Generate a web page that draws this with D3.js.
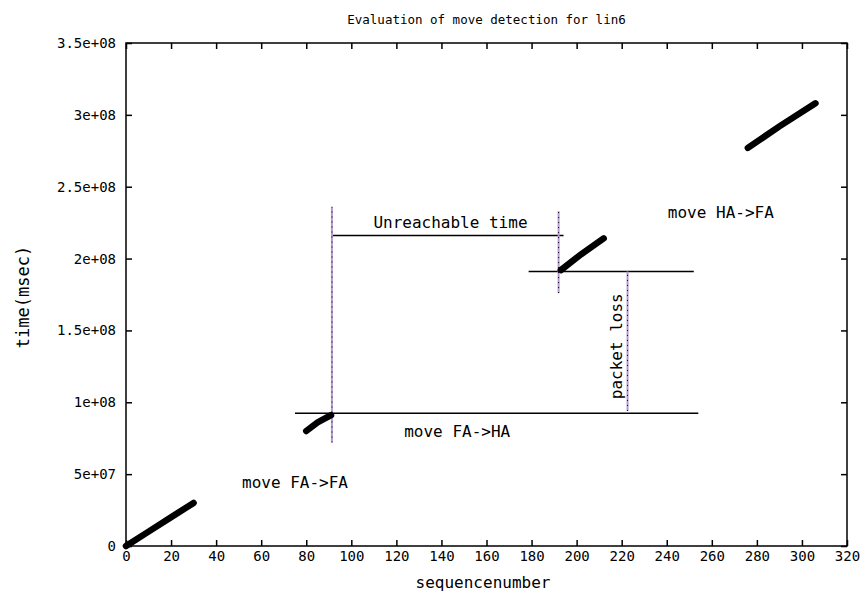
<!DOCTYPE html>
<html>
<head>
<meta charset="utf-8">
<script src="https://cdn.jsdelivr.net/npm/d3@7"></script>
<style>
  body { margin: 0; background: #fff; }
  svg text { font-family: "DejaVu Sans Mono", monospace; fill: #000; }
</style>
</head>
<body>
<svg id="chart" width="865" height="599"></svg>
<script>
// measured runs of packets: [sequence number, time (msec)]
const runFaFa = [[0, 0], [10, 1.0e7], [20, 2.0e7], [30, 3.0e7]];
const runFaHa = [[80, 8.0e7], [85, 8.6e7], [91, 9.1e7]];
const runHaHa = [[193, 1.92e8], [202, 2.03e8], [212, 2.14e8]];
const runHaFa = [[276, 2.77e8], [290, 2.92e8], [306, 3.08e8]];

// horizontal guide lines: [seqFrom, seqTo, time]
const hLines = [
  [75, 254, 9.23e7],
  [91.4, 194.2, 2.16e8],
  [178.7, 252, 1.91e8],
];
// vertical dashed markers: [seq, timeFrom, timeTo]
const vLines = [
  [91.4, 7.2e7, 2.36e8],
  [192, 1.76e8, 2.33e8],
  [222.6, 9.4e7, 1.91e8],
];
// labels: [text, seq, time, rotate]
const labels = [
  ['move FA->FA', 75, 4.4e7, 0],
  ['move FA->HA', 147, 8.0e7, 0],
  ['Unreachable time', 144, 2.25e8, 0],
  ['packet loss', 217.5, 1.39e8, -90],
  ['move HA->FA', 264, 2.32e8, 0],
];

const xTicks = d3.range(0, 321, 20);
const yTicks = [0, 5e7, 1e8, 1.5e8, 2e8, 2.5e8, 3e8, 3.5e8];
const yTickLabels = ['0', '5e+07', '1e+08', '1.5e+08', '2e+08', '2.5e+08', '3e+08', '3.5e+08'];

const svg = d3.select('#chart');
const m = { left: 126, right: 847, top: 43, bottom: 546 };

const x = d3.scaleLinear().domain([0, 320]).range([m.left, m.right]);
const y = d3.scaleLinear().domain([0, 3.5e8]).range([m.bottom, m.top]);

// frame
svg.append('rect')
  .attr('x', m.left).attr('y', m.top)
  .attr('width', m.right - m.left).attr('height', m.bottom - m.top)
  .attr('fill', 'none').attr('stroke', '#000').attr('stroke-width', 1.5);

// axes with inward ticks, mirrored like gnuplot
const tick = 6;
svg.append('g').attr('transform', `translate(0,${m.bottom})`)
  .call(d3.axisBottom(x).tickValues(xTicks).tickSizeInner(-tick).tickSizeOuter(0).tickPadding(5))
  .call(g => g.select('.domain').remove());
svg.append('g').attr('transform', `translate(0,${m.top})`)
  .call(d3.axisTop(x).tickValues(xTicks).tickSizeInner(-tick).tickSizeOuter(0).tickFormat(''))
  .call(g => g.select('.domain').remove());
svg.append('g').attr('transform', `translate(${m.left},0)`)
  .call(d3.axisLeft(y).tickValues(yTicks).tickSizeInner(-tick).tickSizeOuter(0).tickPadding(10)
    .tickFormat((d, i) => yTickLabels[i]))
  .call(g => g.select('.domain').remove());
svg.append('g').attr('transform', `translate(${m.right},0)`)
  .call(d3.axisRight(y).tickValues(yTicks).tickSizeInner(-tick).tickSizeOuter(0).tickFormat(''))
  .call(g => g.select('.domain').remove());

svg.selectAll('.tick line').attr('stroke', '#000').attr('stroke-width', 1.5);
svg.selectAll('.tick text').attr('font-size', 14).attr('font-family', '"DejaVu Sans Mono", monospace');

// guide lines
svg.append('g').selectAll('line').data(hLines).join('line')
  .attr('x1', d => x(d[0])).attr('x2', d => x(d[1]))
  .attr('y1', d => y(d[2])).attr('y2', d => y(d[2]))
  .attr('stroke', '#000').attr('stroke-width', 1.5);

const vg = svg.append('g');
vg.selectAll('line.v').data(vLines).join('line').attr('class', 'v')
  .attr('x1', d => x(d[0])).attr('x2', d => x(d[0]))
  .attr('y1', d => y(d[1])).attr('y2', d => y(d[2]))
  .attr('stroke', '#b49ad0').attr('stroke-width', 2);
vg.selectAll('line.d').data(vLines).join('line').attr('class', 'd')
  .attr('x1', d => x(d[0])).attr('x2', d => x(d[0]))
  .attr('y1', d => y(d[1])).attr('y2', d => y(d[2]))
  .attr('stroke', '#000').attr('stroke-width', 1).attr('stroke-dasharray', '1,4');

// packet runs
const line = d3.line().x(d => x(d[0])).y(d => y(d[1]));
svg.append('g').selectAll('path').data([runFaFa, runFaHa, runHaHa, runHaFa]).join('path')
  .attr('d', line)
  .attr('fill', 'none').attr('stroke', '#000')
  .attr('stroke-width', 6.5).attr('stroke-linecap', 'round');

// annotation labels
svg.append('g').selectAll('text').data(labels).join('text')
  .attr('transform', d => `translate(${x(d[1])},${y(d[2])}) rotate(${d[3]})`)
  .attr('text-anchor', 'middle').attr('dy', '0.35em')
  .attr('font-size', 16)
  .text(d => d[0]);

// titles
svg.append('text').attr('x', (m.left + m.right) / 2).attr('y', 24)
  .attr('text-anchor', 'middle').attr('font-size', 12.5)
  .text('Evaluation of move detection for lin6');
svg.append('text').attr('x', 483).attr('y', 588)
  .attr('text-anchor', 'middle').attr('font-size', 16)
  .text('sequencenumber');
svg.append('text').attr('transform', 'translate(29,297) rotate(-90)')
  .attr('text-anchor', 'middle').attr('font-size', 17)
  .text('time(msec)');
</script>
</body>
</html>
